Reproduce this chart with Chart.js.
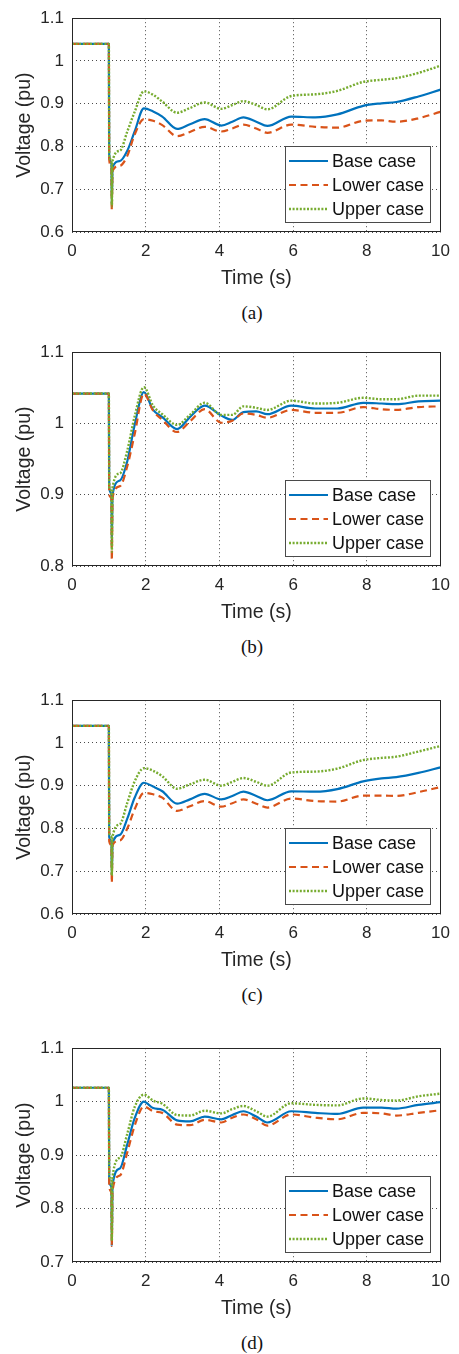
<!DOCTYPE html>
<html>
<head>
<meta charset="utf-8">
<script src="https://cdn.jsdelivr.net/npm/chart.js@4/dist/chart.umd.min.js"></script>
<style>
  html, body { margin: 0; padding: 0; background: #fff; }
  body { width: 459px; height: 1354px; position: relative; overflow: hidden; }
  .panel { position: absolute; left: 0; width: 459px; height: 300px; }
  .cap { position: absolute; left: 202px; width: 100px; text-align: center;
         font-family: "Liberation Serif", "Times New Roman", serif; font-size: 19px;
         line-height: 24px; height: 24px; color: #111; }
</style>
</head>
<body>
<div class="panel" style="top:0px"><canvas id="ca" width="459" height="300"></canvas></div>
<div class="cap" style="top:301px">(a)</div>
<div class="panel" style="top:334px"><canvas id="cb" width="459" height="300"></canvas></div>
<div class="cap" style="top:635px">(b)</div>
<div class="panel" style="top:682px"><canvas id="cc" width="459" height="300"></canvas></div>
<div class="cap" style="top:983px">(c)</div>
<div class="panel" style="top:1030px"><canvas id="cd" width="459" height="300"></canvas></div>
<div class="cap" style="top:1331px">(d)</div>
<script>
// ---- data ----
const time = [0, 1.0, 1.01, 1.07, 1.08, 1.1, 1.3, 1.5, 1.7, 1.95, 2.2, 2.45, 2.85, 3.2, 3.6, 4.05, 4.35, 4.65, 5.0, 5.3, 5.95, 6.6, 7.2, 7.9, 8.4, 8.8, 9.4, 10];
const seriesNames = ["Base case", "Lower case", "Upper case"];
const xTicks = [0, 2, 4, 6, 8, 10];

const aBase  = [1.04, 1.04, 0.78, 0.76, 0.665, 0.752, 0.766, 0.79, 0.835, 0.889, 0.882, 0.870, 0.841, 0.852, 0.864, 0.849, 0.858, 0.868, 0.858, 0.848, 0.870, 0.868, 0.875, 0.895, 0.901, 0.904, 0.917, 0.933];
const aLower = [1.04, 1.04, 0.77, 0.75, 0.651, 0.743, 0.755, 0.778, 0.828, 0.864, 0.860, 0.850, 0.824, 0.834, 0.846, 0.835, 0.842, 0.851, 0.842, 0.832, 0.851, 0.846, 0.844, 0.860, 0.861, 0.858, 0.866, 0.881];
const aUpper = [1.04, 1.04, 0.78, 0.765, 0.66, 0.766, 0.79, 0.835, 0.881, 0.929, 0.921, 0.905, 0.879, 0.890, 0.903, 0.888, 0.897, 0.906, 0.897, 0.887, 0.918, 0.922, 0.930, 0.951, 0.956, 0.960, 0.972, 0.989];
const aTicks = [0.6, 0.7, 0.8, 0.9, 1.0, 1.1];

const bBase  = [1.042, 1.042, 0.91, 0.90, 0.83, 0.90, 0.92, 0.947, 0.998, 1.044, 1.019, 1.009, 0.992, 1.009, 1.025, 1.011, 1.005, 1.016, 1.017, 1.013, 1.025, 1.021, 1.021, 1.029, 1.028, 1.027, 1.031, 1.032];
const bLower = [1.042, 1.042, 0.90, 0.895, 0.808, 0.896, 0.912, 0.94, 0.985, 1.042, 1.018, 1.005, 0.988, 1.003, 1.020, 1.001, 1.004, 1.014, 1.012, 1.008, 1.019, 1.015, 1.015, 1.023, 1.020, 1.019, 1.023, 1.024];
const bUpper = [1.042, 1.042, 0.91, 0.905, 0.82, 0.91, 0.93, 0.962, 1.01, 1.051, 1.025, 1.013, 0.998, 1.012, 1.029, 1.012, 1.012, 1.024, 1.022, 1.019, 1.032, 1.028, 1.029, 1.036, 1.034, 1.034, 1.039, 1.039];
const bTicks = [0.8, 0.9, 1.0, 1.1];

const cBase  = [1.04, 1.04, 0.78, 0.77, 0.69, 0.765, 0.785, 0.823, 0.872, 0.907, 0.898, 0.887, 0.858, 0.868, 0.881, 0.868, 0.876, 0.886, 0.876, 0.866, 0.887, 0.886, 0.892, 0.910, 0.917, 0.920, 0.930, 0.943];
const cLower = [1.04, 1.04, 0.77, 0.76, 0.673, 0.761, 0.772, 0.80, 0.845, 0.883, 0.880, 0.872, 0.841, 0.852, 0.864, 0.851, 0.859, 0.868, 0.858, 0.849, 0.870, 0.864, 0.863, 0.877, 0.877, 0.876, 0.885, 0.897];
const cUpper = [1.04, 1.04, 0.79, 0.78, 0.69, 0.78, 0.81, 0.86, 0.91, 0.941, 0.935, 0.922, 0.893, 0.903, 0.914, 0.900, 0.909, 0.918, 0.909, 0.900, 0.931, 0.933, 0.940, 0.960, 0.965, 0.968, 0.980, 0.993];
const cTicks = [0.6, 0.7, 0.8, 0.9, 1.0, 1.1];

const dBase  = [1.026, 1.026, 0.85, 0.84, 0.73, 0.844, 0.875, 0.92, 0.969, 1.000, 0.988, 0.985, 0.965, 0.963, 0.972, 0.967, 0.975, 0.982, 0.972, 0.961, 0.982, 0.979, 0.977, 0.989, 0.989, 0.987, 0.994, 0.999];
const dLower = [1.026, 1.026, 0.84, 0.83, 0.73, 0.834, 0.862, 0.905, 0.955, 0.991, 0.982, 0.979, 0.957, 0.956, 0.966, 0.961, 0.970, 0.976, 0.967, 0.955, 0.976, 0.970, 0.967, 0.979, 0.978, 0.974, 0.979, 0.984];
const dUpper = [1.026, 1.026, 0.86, 0.855, 0.74, 0.859, 0.895, 0.94, 0.99, 1.013, 1.002, 0.996, 0.975, 0.974, 0.983, 0.978, 0.986, 0.992, 0.982, 0.972, 0.997, 0.994, 0.993, 1.006, 1.003, 1.002, 1.010, 1.015];
const dTicks = [0.7, 0.8, 0.9, 1.0, 1.1];

// ---- styles ----
const FONT = '"Liberation Sans", Arial, Helvetica, sans-serif';
const TXT = '#262626';
const styles = [
  { color: '#0072BD', width: 2.2, dash: [] , order: 3},
  { color: '#D95319', width: 2.2, dash: [7, 4.5], order: 2},
  { color: '#77AC30', width: 2.4, dash: [2, 1.6], order: 1}
];

const boxPlugin = {
  id: 'boxPlugin',
  afterDatasetsDraw(chart) {
    const {ctx, chartArea: a} = chart;
    ctx.save();
    ctx.strokeStyle = TXT;
    ctx.lineWidth = 1;
    ctx.setLineDash([]);
    ctx.strokeRect(Math.round(a.left) + 0.5, Math.round(a.top) + 0.5,
                   Math.round(a.right - a.left) - 1, Math.round(a.bottom - a.top) - 1);
    // legend
    const L = Math.round(a.right) - 156, T = Math.round(a.bottom) - 86, W = 145, H = 76;
    ctx.fillStyle = '#fff';
    ctx.fillRect(L, T, W, H);
    ctx.strokeStyle = '#4a4a4a';
    ctx.strokeRect(L + 0.5, T + 0.5, W, H);
    const rows = [15, 39, 63];
    chart.data.datasets.forEach((ds, i) => {
      const y = T + rows[i];
      ctx.beginPath();
      ctx.strokeStyle = ds.borderColor;
      ctx.lineWidth = ds.borderWidth;
      ctx.setLineDash(ds.borderDash || []);
      ctx.moveTo(L + 4, y);
      ctx.lineTo(L + 43, y);
      ctx.stroke();
      ctx.setLineDash([]);
      ctx.fillStyle = '#111';
      ctx.font = '18px ' + FONT;
      ctx.textBaseline = 'middle';
      ctx.textAlign = 'left';
      ctx.fillText(ds.label, L + 47, y + 1);
    });
    ctx.restore();
  }
};

function makeChart(id, series, yTicks) {
  const datasets = series.map((vals, i) => ({
    label: seriesNames[i],
    data: time.map((t, k) => ({x: t, y: vals[k]})),
    borderColor: styles[i].color,
    backgroundColor: styles[i].color,
    borderWidth: styles[i].width,
    borderDash: styles[i].dash,
    order: styles[i].order,
    pointRadius: 0,
    fill: false,
    cubicInterpolationMode: 'monotone',
    borderCapStyle: 'butt',
    borderJoinStyle: 'round'
  }));
  return new Chart(document.getElementById(id), {
    type: 'line',
    data: { datasets },
    options: {
      responsive: false,
      animation: false,
      devicePixelRatio: 1,
      layout: { padding: { top: 15, right: 15, left: 0, bottom: 0 } },
      plugins: { legend: { display: false }, tooltip: { enabled: false } },
      scales: {
        x: {
          type: 'linear', min: 0, max: 10,
          afterBuildTicks(s) { s.ticks = xTicks.map(v => ({value: v})); },
          afterFit(s) { s.height = 68; },
          ticks: { font: { family: FONT, size: 17 }, color: TXT, padding: 9, maxRotation: 0,
                   callback: v => String(v) },
          grid: { color: 'rgba(30,30,30,0.8)', lineWidth: 1, drawTicks: false },
          border: { display: false, dash: [1, 3] },
          title: { display: true, text: 'Time (s)', font: { family: FONT, size: 19.5, lineHeight: 1.2 },
                   color: TXT, padding: { top: 0, bottom: 10 } }
        },
        y: {
          type: 'linear', min: yTicks[0], max: yTicks[yTicks.length - 1],
          afterBuildTicks(s) { s.ticks = yTicks.map(v => ({value: v})); },
          afterFit(s) { s.width = 72; },
          ticks: { font: { family: FONT, size: 17 }, color: TXT, padding: 8,
                   callback: v => String(Number(v.toFixed(1))) },
          grid: { color: 'rgba(30,30,30,0.8)', lineWidth: 1, drawTicks: false },
          border: { display: false, dash: [1, 3] },
          title: { display: true, text: 'Voltage (pu)', font: { family: FONT, size: 19.5, lineHeight: 1.2 },
                   color: TXT, padding: { top: 13, bottom: 0 } }
        }
      }
    },
    plugins: [boxPlugin]
  });
}

makeChart('ca', [aBase, aLower, aUpper], aTicks);
makeChart('cb', [bBase, bLower, bUpper], bTicks);
makeChart('cc', [cBase, cLower, cUpper], cTicks);
makeChart('cd', [dBase, dLower, dUpper], dTicks);
</script>
</body>
</html>
